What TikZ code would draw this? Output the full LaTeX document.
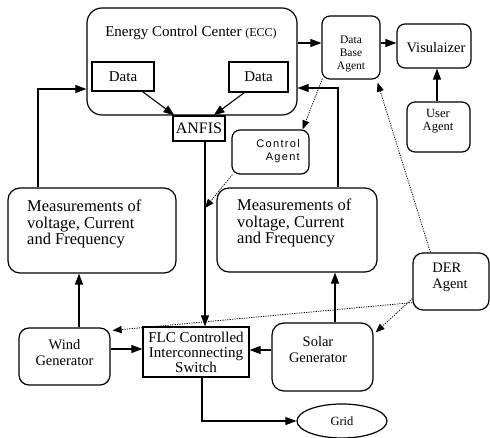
\documentclass[tikz,border=0pt]{standalone}
\usepackage{fontspec}
\setmainfont{Liberation Serif}
\newfontfamily\agentsans[LetterSpace=12]{Liberation Sans}
\usetikzlibrary{arrows.meta,calc,shapes.geometric}
\tikzset{
  box/.style={draw, line width=1.2pt, inner sep=0pt, anchor=center},
  rbox/.style={box, rounded corners=#1},
  rbox/.default=8pt,
  txt/.style={inner sep=0pt, align=center},
  meastxt/.style={inner sep=0pt, align=left, anchor=north west, font=\fontsize{16.5}{16.5}\selectfont},
  arr/.style={line width=1.1pt, -{Triangle[length=11pt,width=8pt]}},
  plain/.style={line width=1.1pt},
  dotarr/.style={line width=0.8pt, dash pattern=on 1.2pt off 1.2pt, -{Triangle[length=9pt,width=7pt]}}
}
\begin{document}
\begin{tikzpicture}[x=1pt,y=-1pt]
\useasboundingbox (0,0) rectangle (490,438);

% Energy Control Center
\node[rbox=15pt, minimum width=210pt, minimum height=107pt] (ecc) at (192,61.5) {};
\node[txt] (eccT) at (191,33) {\fontsize{15}{17}\selectfont Energy Control Center \fontsize{12}{14}\selectfont(ECC)};
\node[box, minimum width=62pt, minimum height=29pt, font=\fontsize{15}{17}\selectfont] (d1) at (123,76.5) {Data};
\node[box, minimum width=59pt, minimum height=30pt, font=\fontsize{15}{17}\selectfont] (d2) at (258.5,77) {Data};
\node[box, minimum width=52pt, minimum height=25pt, font=\fontsize{16}{18}\selectfont] (anfis) at (199,128.5) {ANFIS};

% Agents and visualizer
\node[rbox=8pt, minimum width=58pt, minimum height=63pt] (dba) at (351,47.5) {};
\node[txt, font=\fontsize{11.5}{13}\selectfont] (dbaT) at (351,54) {Data\\Base\\Agent};
\node[rbox=8pt, minimum width=74pt, minimum height=44pt] (vis) at (434,46) {};
\node[txt, font=\fontsize{14.5}{16}\selectfont] (visT) at (436,48) {Visulaizer};
\node[rbox=8pt, minimum width=63pt, minimum height=50pt] (user) at (438.5,127) {};
\node[txt, font=\fontsize{12.5}{13}\selectfont] (userT) at (438,121.5) {User\\Agent};
\node[rbox=8pt, minimum width=77pt, minimum height=44pt] (ctrl) at (270.5,152) {};
\node[inner sep=0pt, align=right, anchor=east, font=\agentsans\fontsize{11}{13}\selectfont] (ctrlT) at (300,151.5) {Control\\Agent};
\node[rbox=10pt, minimum width=76pt, minimum height=57pt] (der) at (451,281.5) {};
\node[inner sep=0pt, align=left, font=\fontsize{14.5}{16}\selectfont] (derT) at (450,277) {DER\\Agent};

% Measurements
\node[rbox=12pt, minimum width=168pt, minimum height=85pt] (measL) at (92,230.5) {};
\node[meastxt] (measLT) at (27,200) {Measurements of\\voltage, Current\\and Frequency};
\node[rbox=12pt, minimum width=160pt, minimum height=84pt] (measR) at (297,230) {};
\node[meastxt] (measRT) at (237,199) {Measurements of\\voltage, Current\\and Frequency};

% Generators, switch, grid
\node[rbox=10pt, minimum width=91pt, minimum height=57pt] (wind) at (64.5,356.5) {};
\node[txt, font=\fontsize{14.5}{16}\selectfont] (windT) at (64.5,353) {Wind\\Generator};
\node[box, minimum width=106pt, minimum height=50pt, align=center, font=\fontsize{15}{15}\selectfont] (flc) at (196,352) {FLC Controlled\\Interconnecting\\Switch};
\node[rbox=12pt, minimum width=101pt, minimum height=68pt] (solar) at (322.5,357) {};
\node[txt, font=\fontsize{14.5}{16}\selectfont] (solarT) at (318,350) {Solar\\Generator};
\node[draw, ellipse, line width=1.2pt, minimum width=90pt, minimum height=34pt, inner sep=0pt, font=\fontsize{12.5}{14}\selectfont] (grid) at (342,421) {Grid};

% Solid connectors
\draw[arr] ($(d1.south east)+(-12,0)$) -- ($(anfis.north west)+(2,0)$);
\draw[arr] ($(d2.south west)+(16,0)$) -- ($(anfis.north east)+(-12,0)$);
\coordinate (av) at ($(anfis.south)+(6,0)$);
\draw[arr] (av) -- (av |- flc.north);
\draw[arr] (ecc.east |- 0,43) -- (dba.west |- 0,43);
\draw[arr] (dba.east |- 0,43) -- (vis.west |- 0,43);
\draw[arr] (user.north -| 437,0) -- (vis.south -| 437,0);
\draw[arr] (measL.north -| 38,0) |- (ecc.west |- 0,89);
\draw[arr] (measR.north -| 338,0) |- (ecc.east |- 0,88);
\draw[arr] (wind.north -| 79,0) -- (measL.south -| 79,0);
\draw[arr] (solar.north -| 335,0) -- (measR.south -| 335,0);
\draw[arr] (wind.east |- 0,349) -- (flc.west |- 0,349);
\draw[arr] (solar.west |- 0,350) -- (flc.east |- 0,350);
\draw[arr] (flc.south -| 202,0) |- (grid.west);

% Dotted connectors
\coordinate (cj) at (205,208);
\draw[dotarr] ($(dba.south west)+(1,-1)$) -- ($(ctrl.north east)+(-7,0)$);
\draw[dotarr] ($(ctrl.south west)+(1,0)$) -- (cj);
\draw[dotarr] ($(der.north west)+(18,0)$) -- ($(dba.south east)+(-3,3)$);
\draw[dotarr] ($(der.south west)+(0,-8)$) -- ($(wind.north east)+(2,3)$);
\draw[dotarr] ($(der.south west)+(0,-12)$) -- ($(solar.north east)+(2,10)$);
\end{tikzpicture}
\end{document}
